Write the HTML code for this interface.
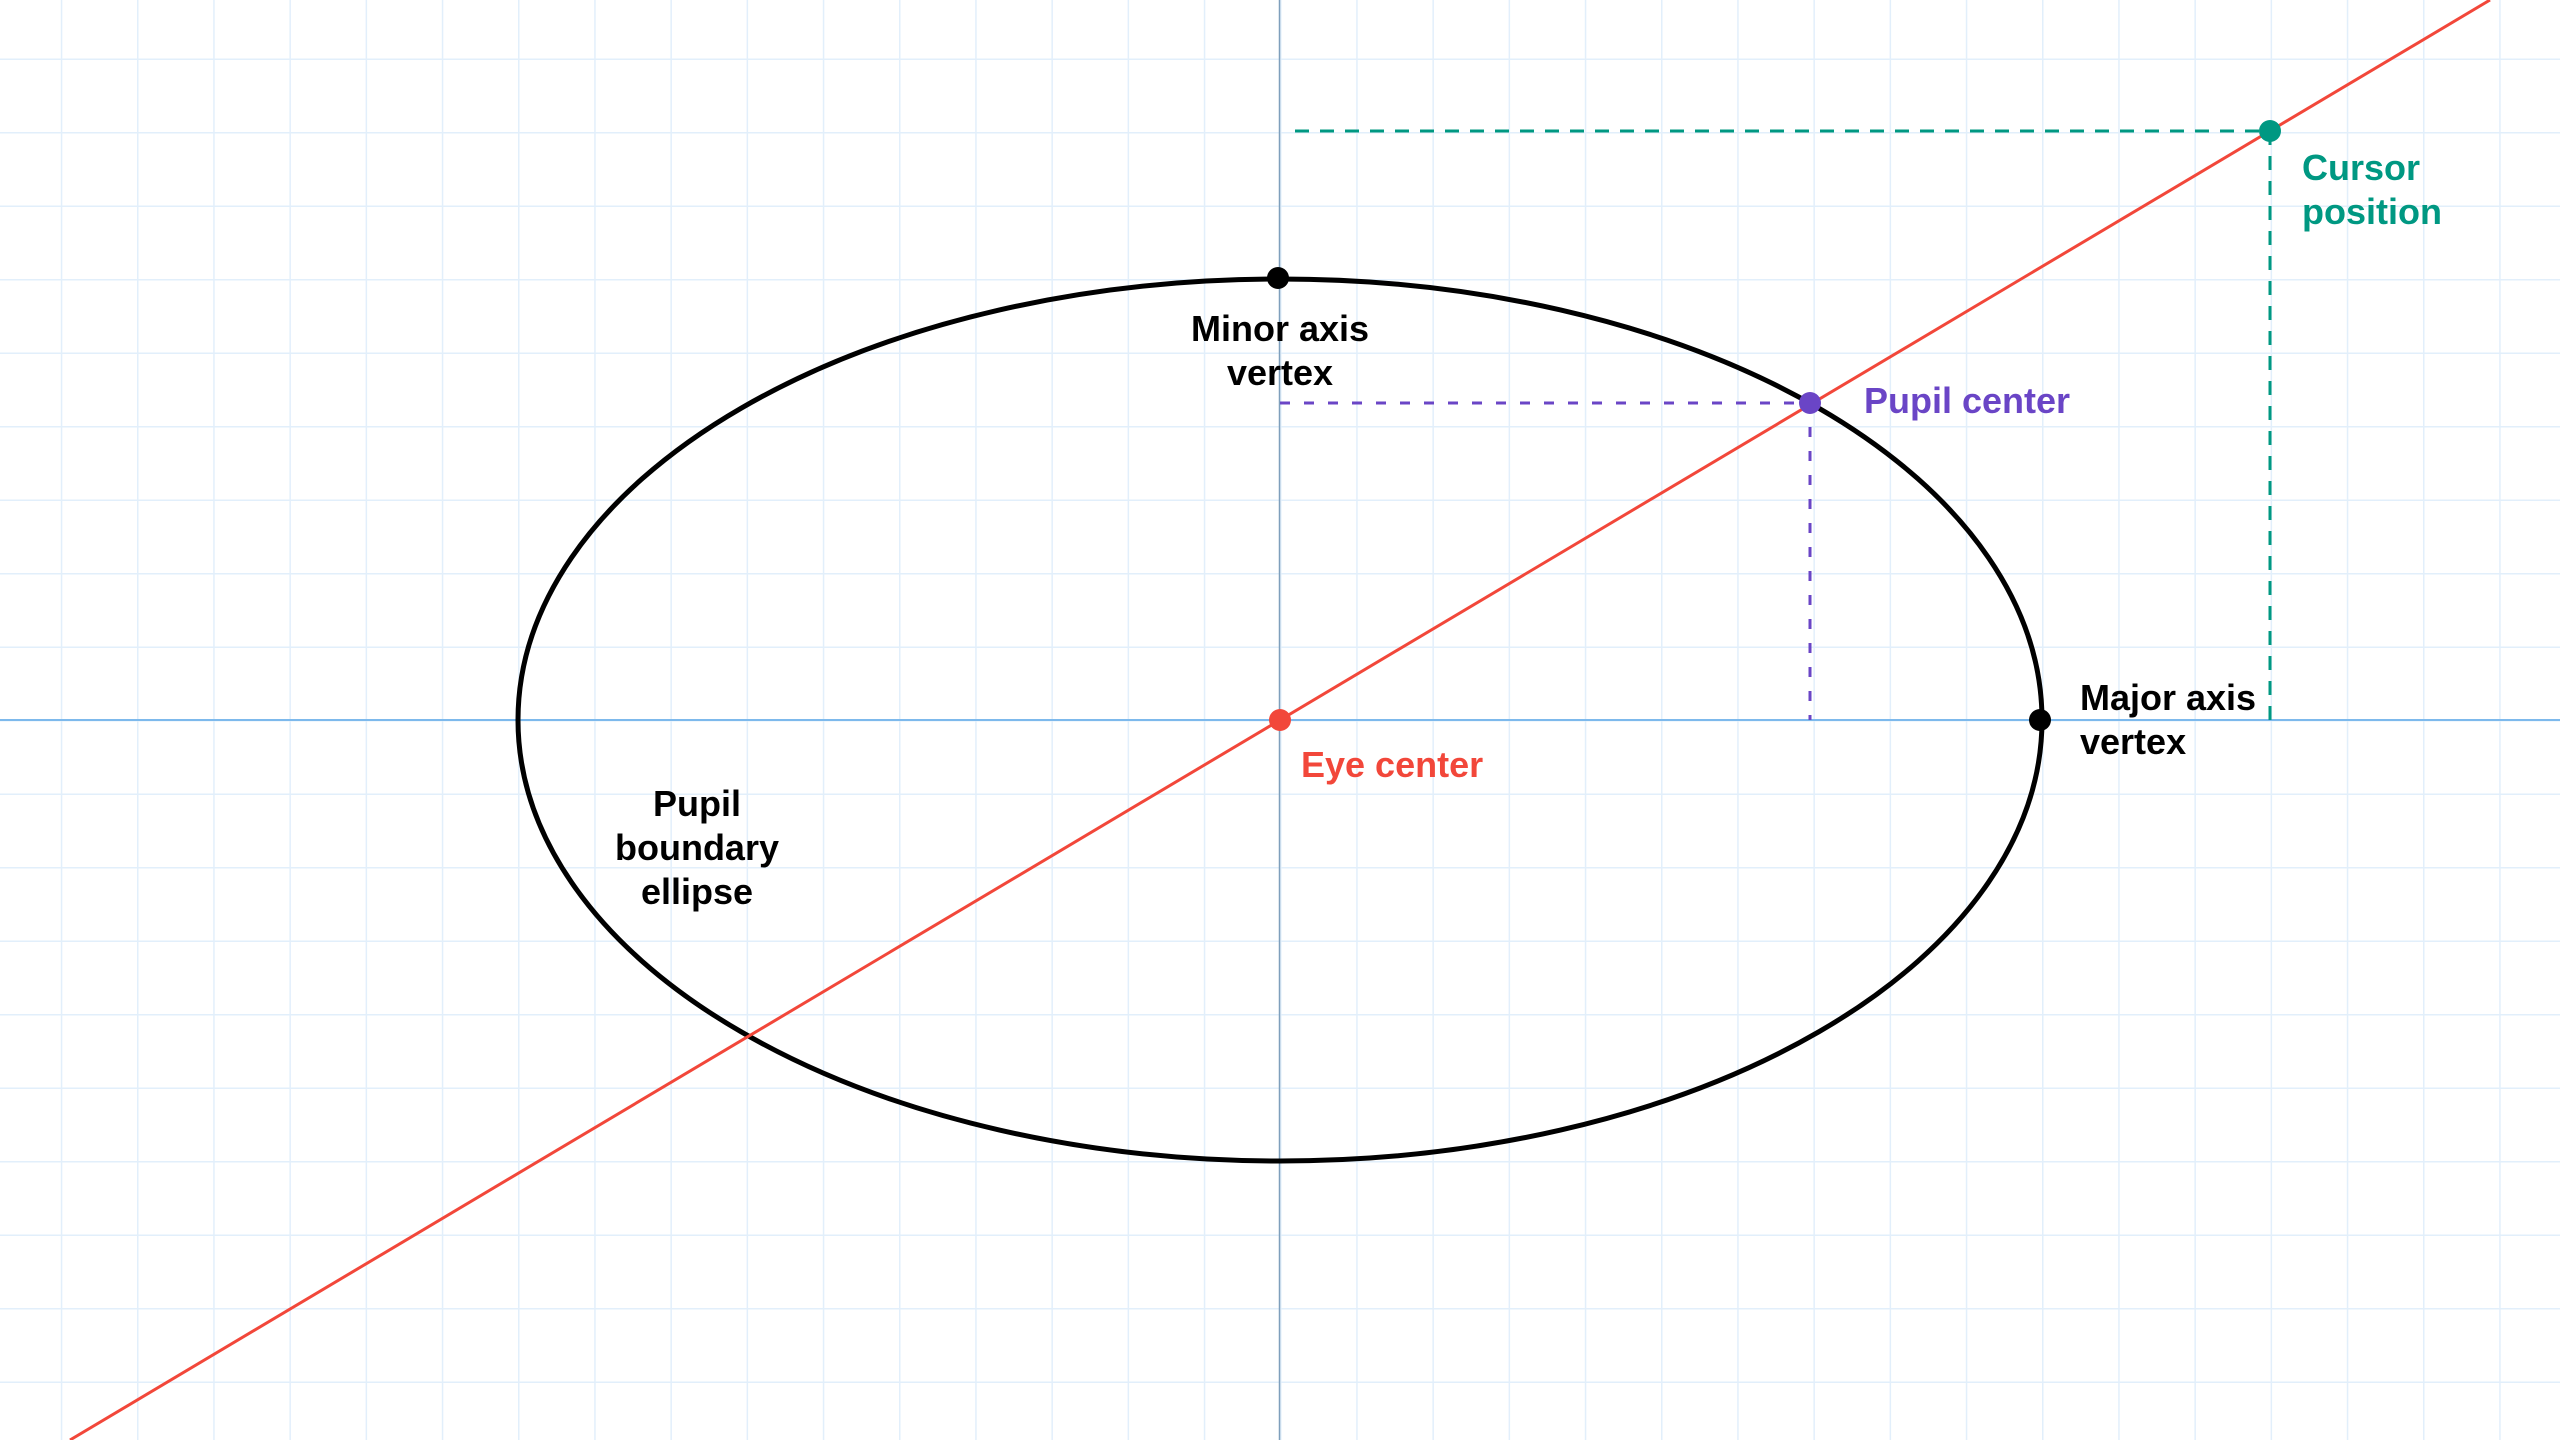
<!DOCTYPE html>
<html><head><meta charset="utf-8"><style>
html,body{margin:0;padding:0;background:#fff;}
svg{display:block;}
text{font-family:"Liberation Sans",Arial,sans-serif;font-weight:bold;font-size:36px;}
</style></head><body>
<svg width="2560" height="1440" viewBox="0 0 2560 1440" xmlns="http://www.w3.org/2000/svg">
<defs>
<pattern id="g" patternUnits="userSpaceOnUse" x="60.8" y="58.5" width="76.2" height="73.5">
<line x1="0.75" y1="0" x2="0.75" y2="73.5" stroke="#e2effb" stroke-width="1.5"/>
<line x1="0" y1="0.75" x2="76.2" y2="0.75" stroke="#e2effb" stroke-width="1.5"/>
</pattern>
</defs>
<rect width="2560" height="1440" fill="#fff"/>
<rect width="2560" height="1440" fill="url(#g)"/>
<line x1="0" y1="720" x2="2560" y2="720" stroke="#7db9ec" stroke-width="2"/>
<line x1="1279.5" y1="0" x2="1279.5" y2="1440" stroke="#7f9fbc" stroke-width="1.5"/>
<!-- dashed guides -->
<line x1="1295" y1="131" x2="2270" y2="131" stroke="#009882" stroke-width="3" stroke-dasharray="14 11"/>
<line x1="2270" y1="131" x2="2270" y2="720" stroke="#009882" stroke-width="3" stroke-dasharray="14 11"/>
<line x1="1280" y1="403" x2="1810" y2="403" stroke="#6a45c6" stroke-width="3" stroke-dasharray="10 14"/>
<line x1="1810" y1="403" x2="1810" y2="720" stroke="#6a45c6" stroke-width="3" stroke-dasharray="10 14"/>
<!-- ellipse -->
<ellipse cx="1280" cy="720" rx="762" ry="441" fill="none" stroke="#000" stroke-width="5"/>
<!-- red line -->
<line x1="70" y1="1440" x2="2490" y2="0" stroke="#f2473a" stroke-width="3"/>
<!-- dots -->
<circle cx="1278" cy="278" r="11" fill="#000"/>
<circle cx="2040" cy="720" r="11" fill="#000"/>
<circle cx="1280" cy="720" r="11" fill="#f2473a"/>
<circle cx="1810" cy="403" r="11" fill="#6a45c6"/>
<circle cx="2270" cy="131" r="11" fill="#009882"/>
<!-- labels -->
<text x="1280" y="341" text-anchor="middle" fill="#000">Minor axis</text>
<text x="1280" y="385" text-anchor="middle" fill="#000">vertex</text>
<text x="2302" y="180" fill="#009882">Cursor</text>
<text x="2302" y="224" fill="#009882">position</text>
<text x="1864" y="413" fill="#6a45c6">Pupil center</text>
<text x="2080" y="710" fill="#000">Major axis</text>
<text x="2080" y="754" fill="#000">vertex</text>
<text x="1301" y="777" fill="#f2473a">Eye center</text>
<text x="697" y="816" text-anchor="middle" fill="#000">Pupil</text>
<text x="697" y="860" text-anchor="middle" fill="#000">boundary</text>
<text x="697" y="904" text-anchor="middle" fill="#000">ellipse</text>
</svg>
</body></html>
